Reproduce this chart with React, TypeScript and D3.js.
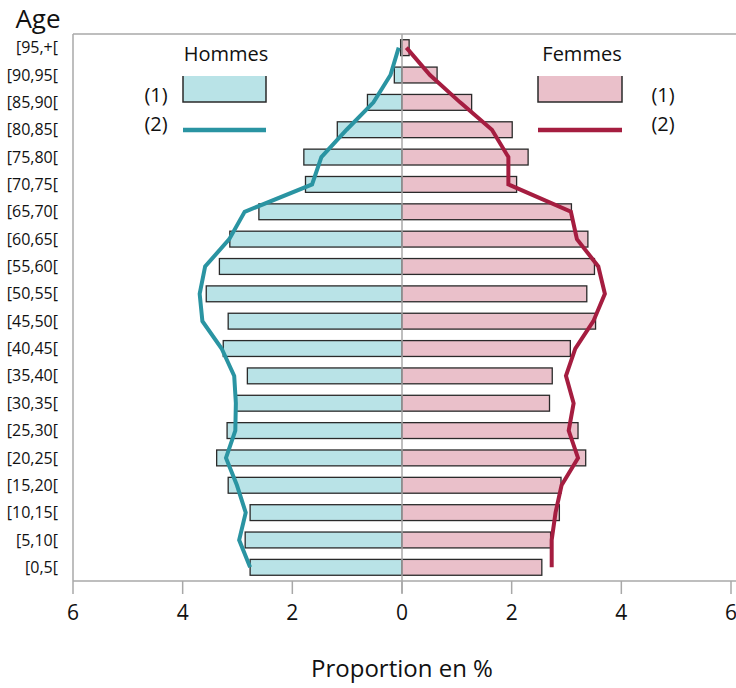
import React from "react";
import * as d3 from "d3";

const ageGroups = ["[0,5[", "[5,10[", "[10,15[", "[15,20[", "[20,25[", "[25,30[", "[30,35[", "[35,40[", "[40,45[", "[45,50[", "[50,55[", "[55,60[", "[60,65[", "[65,70[", "[70,75[", "[75,80[", "[80,85[", "[85,90[", "[90,95[", "[95,+["];
const hommesBars = [2.77, 2.86, 2.77, 3.17, 3.38, 3.19, 3.02, 2.82, 3.26, 3.17, 3.57, 3.33, 3.14, 2.61, 1.76, 1.79, 1.18, 0.63, 0.14, 0.025];
const femmesBars = [2.55, 2.71, 2.87, 2.9, 3.35, 3.21, 2.69, 2.74, 3.07, 3.53, 3.37, 3.51, 3.39, 3.09, 2.09, 2.3, 2.01, 1.27, 0.64, 0.13];
const hommesLine = [2.77, 2.97, 2.85, 3.01, 3.21, 3.04, 3.03, 3.06, 3.29, 3.64, 3.69, 3.59, 3.15, 2.87, 1.64, 1.47, 1.01, 0.52, 0.21, 0.06];
const femmesLine = [2.73, 2.73, 2.8, 2.91, 3.21, 3.04, 3.13, 2.99, 3.16, 3.49, 3.7, 3.58, 3.19, 3.08, 1.94, 1.94, 1.64, 1.06, 0.51, 0.08];
const xTicks = [-6, -4, -2, 0, 2, 4, 6];

const W = 736;
const H = 688;
const left = 73;
const right = 731;
const top = 34;
const bottom = 581;
const FONT = "'Open Sans', 'Noto Sans', sans-serif";

const C = {
  hFill: "#b9e3e7",
  hLine: "#2a94a2",
  fFill: "#eac0ca",
  fLine: "#a51d40",
  frame: "#a8a8a8",
  stroke: "#2a2a2a",
};

export default function App() {
  const x = d3.scaleLinear().domain([-6, 6]).range([left, right]);
  const y = d3
    .scaleBand<string>()
    .domain([...ageGroups].reverse())
    .range([top, bottom])
    .paddingInner(0.42)
    .paddingOuter(0.21);
  const bw = y.bandwidth();

  const hPts = ageGroups.map((a, i) => [x(-hommesLine[i]), (y(a) as number) + bw / 2] as [number, number]);
  const fPts = ageGroups.map((a, i) => [x(femmesLine[i]), (y(a) as number) + bw / 2] as [number, number]);
  const line = d3.line();

  return (
    <svg
      width={W}
      height={H}
      style={{ position: "absolute", left: 0, top: 0, background: "#fff" }}
      fontFamily={FONT}
    >
      {/* frame */}
      <line x1={left} x2={W} y1={top} y2={top} stroke={C.frame} strokeWidth={1.5} />
      <line x1={left} x2={left} y1={top} y2={bottom} stroke={C.frame} strokeWidth={1.5} />
      <line x1={left} x2={W} y1={bottom} y2={bottom} stroke={C.frame} strokeWidth={1.5} />

      {/* bars */}
      {ageGroups.map((a, i) => (
        <g key={a}>
          <rect
            x={x(-hommesBars[i])}
            y={y(a)}
            width={x(0) - x(-hommesBars[i])}
            height={bw}
            fill={C.hFill}
            stroke={C.stroke}
            strokeWidth={1.3}
          />
          <rect
            x={x(0)}
            y={y(a)}
            width={x(femmesBars[i]) - x(0)}
            height={bw}
            fill={C.fFill}
            stroke={C.stroke}
            strokeWidth={1.3}
          />
        </g>
      ))}

      {/* zero line */}
      <line x1={x(0)} x2={x(0)} y1={top} y2={bottom + 12} stroke={C.frame} strokeWidth={1.5} />

      {/* lines */}
      <path d={line(hPts) || ""} fill="none" stroke={C.hLine} strokeWidth={4} strokeLinejoin="miter" />
      <path d={line(fPts) || ""} fill="none" stroke={C.fLine} strokeWidth={4} strokeLinejoin="miter" />

      {/* x ticks */}
      {xTicks.map((t) => (
        <g key={t}>
          <line x1={x(t)} x2={x(t)} y1={bottom} y2={bottom + 13} stroke={C.frame} strokeWidth={1.5} />
          <text x={x(t)} y={bottom + 39} textAnchor="middle" fontSize={21} fill="#111">
            {Math.abs(t)}
          </text>
        </g>
      ))}
      <text x={x(0)} y={677} textAnchor="middle" fontSize={24} fill="#111">
        Proportion en %
      </text>

      {/* y labels */}
      {ageGroups.map((a) => (
        <text
          key={a}
          x={58}
          y={(y(a) as number) + bw / 2}
          dy="0.35em"
          textAnchor="end"
          fontSize={16}
          fill="#111"
        >
          {a}
        </text>
      ))}
      <text x={38} y={28} textAnchor="middle" fontSize={26} fill="#111">
        Age
      </text>

      {/* legend hommes */}
      <text x={226} y={61} textAnchor="middle" fontSize={20} fill="#111">
        Hommes
      </text>
      <rect x={183} y={76} width={83} height={26} fill={C.hFill} />
      <path d="M183,76V102H266V76" fill="none" stroke={C.stroke} strokeWidth={1.5} />
      <line x1={183} x2={266} y1={130} y2={130} stroke={C.hLine} strokeWidth={4.5} />
      <text x={156} y={102} textAnchor="middle" fontSize={20} fill="#111">
        (1)
      </text>
      <text x={156} y={131} textAnchor="middle" fontSize={20} fill="#111">
        (2)
      </text>

      {/* legend femmes */}
      <text x={582} y={61} textAnchor="middle" fontSize={20} fill="#111">
        Femmes
      </text>
      <rect x={538} y={76} width={84} height={26} fill={C.fFill} />
      <path d="M538,76V102H622V76" fill="none" stroke={C.stroke} strokeWidth={1.5} />
      <line x1={538} x2={622} y1={130} y2={130} stroke={C.fLine} strokeWidth={4.5} />
      <text x={663} y={102} textAnchor="middle" fontSize={20} fill="#111">
        (1)
      </text>
      <text x={663} y={131} textAnchor="middle" fontSize={20} fill="#111">
        (2)
      </text>
    </svg>
  );
}
